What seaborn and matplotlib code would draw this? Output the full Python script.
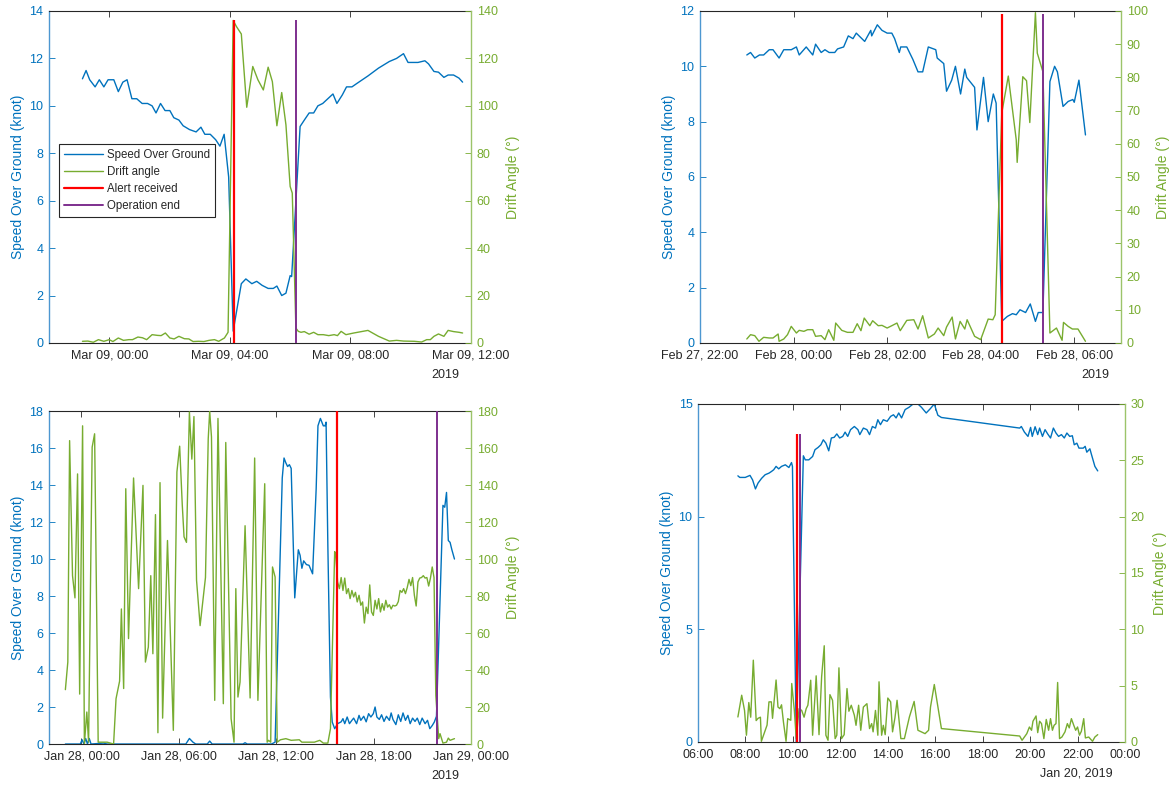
import numpy as np
import pandas as pd
import matplotlib
matplotlib.use('Agg')
import matplotlib.pyplot as plt
import matplotlib.dates as mdates
from matplotlib.lines import Line2D
import seaborn as sns

BLUE = '#0072BD'
GREEN = '#77AC30'
RED = '#FF0000'
PURPLE = '#7E2F8E'
GREY = '#262626'

# ---- panel 1 : Mar 09 2019 (hours from midnight)
p1_sog_h = [-0.89, -0.77, -0.65, -0.47, -0.33, -0.18, -0.04, 0.15, 0.30, 0.45, 0.59, 0.75, 0.91,
            1.09, 1.27, 1.42, 1.55, 1.70, 1.85, 2.01, 2.14, 2.31, 2.45, 2.66, 2.88, 3.04, 3.17,
            3.35, 3.53, 3.67, 3.81, 3.96, 4.11, 4.38, 4.53, 4.73, 4.89, 5.07, 5.27, 5.44, 5.56,
            5.72, 5.86, 6.00, 6.05, 6.33, 6.47, 6.63, 6.78, 6.92, 7.08, 7.25, 7.42, 7.55, 7.73,
            7.87, 8.05, 8.22, 8.58, 8.93, 9.29, 9.53, 9.76, 9.91, 10.24, 10.47, 10.59, 10.77,
            10.92, 11.10, 11.24, 11.42, 11.60, 11.72]
p1_sog = [11.14, 11.49, 11.10, 10.80, 11.10, 10.80, 11.10, 11.10, 10.60, 11.00, 11.10, 10.30, 10.30,
          10.10, 10.10, 10.00, 9.70, 10.10, 9.80, 9.80, 9.50, 9.40, 9.16, 9.00, 8.90, 9.10, 8.80,
          8.80, 8.57, 8.30, 8.80, 7.00, 0.50, 2.50, 2.70, 2.50, 2.60, 2.43, 2.30, 2.30, 2.40,
          2.00, 2.10, 2.84, 2.80, 9.13, 9.40, 9.70, 9.70, 10.00, 10.10, 10.30, 10.50, 10.10, 10.46,
          10.80, 10.80, 10.95, 11.26, 11.59, 11.87, 12.00, 12.20, 11.83, 11.83, 11.90, 11.77, 11.45,
          11.42, 11.20, 11.30, 11.30, 11.17, 11.00]
p1_drift_h = [-0.89, -0.71, -0.53, -0.36, -0.18, 0.00, 0.12, 0.30, 0.47, 0.65, 0.77, 0.95, 1.10,
              1.24, 1.42, 1.60, 1.72, 1.86, 2.01, 2.15, 2.31, 2.49, 2.64, 2.78, 2.96, 3.14, 3.31,
              3.49, 3.63, 3.82, 3.94, 4.11, 4.22, 4.38, 4.56, 4.76, 4.93, 5.11, 5.27, 5.41, 5.56,
              5.72, 5.86, 6.00, 6.07, 6.19, 6.27, 6.36, 6.47, 6.63, 6.78, 6.92, 7.10, 7.28, 7.46,
              7.57, 7.69, 7.85, 8.11, 8.58, 8.93, 9.29, 9.53, 9.76, 10.12, 10.36, 10.53, 10.65,
              10.77, 10.92, 11.10, 11.24, 11.42, 11.60, 11.72]
p1_drift = [0.7, 0.8, 0.3, 1.4, 0.7, 1.4, 0.6, 2.1, 1.1, 1.4, 1.4, 2.5, 2.2,
            1.4, 3.5, 3.2, 3.1, 4.2, 2.1, 1.7, 2.8, 1.8, 1.7, 0.6, 0.7, 0.6, 1.1,
            1.4, 0.7, 2.1, 4.5, 136.0, 133.4, 130.3, 99.4, 116.6, 111.0, 106.7, 116.3, 110.2, 91.6,
            105.6, 92.0, 66.0, 63.2, 6.3, 4.9, 4.5, 4.8, 3.7, 4.5, 3.5, 3.5, 3.1, 3.5,
            3.1, 4.9, 3.5, 4.2, 5.3, 2.8, 0.8, 1.1, 0.8, 0.7, 0.4, 1.4, 1.4,
            2.8, 3.8, 2.8, 5.3, 4.8, 4.5, 4.2]
p1_alert, p1_end, p1_top = 4.15, 6.19, 13.6

# ---- panel 2 : Feb 28 2019
p2_sog_h = [-1.00, -0.92, -0.83, -0.73, -0.64, -0.52, -0.44, -0.31, -0.21, -0.05, 0.06, 0.12, 0.27,
            0.41, 0.47, 0.59, 0.67, 0.76, 0.88, 0.94, 1.07, 1.17, 1.27, 1.34, 1.52, 1.65, 1.67,
            1.79, 1.89, 2.00, 2.10, 2.16, 2.26, 2.29, 2.42, 2.55, 2.66, 2.76, 2.88, 3.04, 3.07,
            3.21, 3.27, 3.38, 3.46, 3.57, 3.66, 3.70, 3.87, 3.92, 4.06, 4.16, 4.27, 4.33, 4.45,
            4.57, 4.68, 4.76, 4.84, 4.96, 5.06, 5.17, 5.23, 5.33, 5.48, 5.58, 5.64, 5.76, 5.87,
            5.97, 6.00, 6.10, 6.24]
p2_sog = [10.41, 10.50, 10.30, 10.41, 10.41, 10.60, 10.60, 10.30, 10.60, 10.60, 10.70, 10.41, 10.70,
          10.41, 10.80, 10.50, 10.60, 10.50, 10.50, 10.63, 10.70, 11.10, 11.00, 11.20, 10.90, 11.30, 11.10,
          11.50, 11.30, 11.20, 11.20, 11.00, 10.50, 10.70, 10.70, 10.25, 9.80, 9.80, 10.70, 10.60, 10.30,
          10.10, 9.10, 9.50, 10.00, 9.00, 9.90, 9.60, 9.24, 7.70, 9.60, 8.00, 9.00, 8.67, 0.78,
          0.96, 1.06, 1.02, 1.20, 1.10, 1.41, 0.78, 1.10, 1.10, 9.45, 10.00, 9.80, 8.55, 8.73,
          8.80, 8.70, 9.50, 7.52]
p2_drift_h = [-1.00, -0.92, -0.83, -0.74, -0.64, -0.52, -0.44, -0.33, -0.31, -0.21, -0.13, -0.05, 0.06,
              0.12, 0.22, 0.30, 0.41, 0.47, 0.59, 0.67, 0.75, 0.86, 0.90, 1.03, 1.15, 1.27, 1.36,
              1.44, 1.51, 1.63, 1.69, 1.81, 1.89, 2.00, 2.10, 2.21, 2.28, 2.42, 2.57, 2.66, 2.76,
              2.88, 3.01, 3.09, 3.21, 3.27, 3.39, 3.46, 3.56, 3.66, 3.71, 3.87, 4.00, 4.16, 4.26,
              4.31, 4.45, 4.59, 4.76, 4.78, 4.90, 4.98, 5.05, 5.17, 5.21, 5.33, 5.48, 5.62, 5.74,
              5.77, 5.87, 5.96, 6.08, 6.24]
p2_drift = [1.2, 2.5, 2.2, 0.5, 1.7, 1.5, 1.5, 2.7, 0.5, 1.2, 2.5, 5.0, 3.0,
            3.8, 3.5, 4.0, 4.0, 2.0, 2.2, 1.0, 4.0, 0.8, 6.0, 3.8, 3.2, 3.2, 5.8,
            3.7, 7.5, 5.2, 6.7, 5.2, 5.3, 4.5, 5.2, 6.0, 3.7, 6.8, 7.0, 4.2, 8.2,
            1.5, 2.7, 4.5, 2.2, 4.8, 7.8, 1.2, 6.5, 4.2, 7.0, 2.0, 1.0, 7.2, 7.0,
            8.5, 69.2, 80.4, 61.2, 54.4, 80.2, 79.0, 66.4, 99.5, 87.3, 81.7, 3.0, 4.5, 0.8,
            6.2, 5.0, 4.2, 4.2, 0.5]
p2_alert, p2_end, p2_top = 4.45, 5.34, 11.9

# ---- panel 3 : Jan 28 2019
p3_sog_h = [-0.99, -0.07, 0.04, 0.15, 0.26, 0.37, 0.48, 0.59, 1.36, 1.58, 6.43, 6.65, 6.87, 7.04,
            7.75, 7.90, 8.05, 9.95, 10.08, 10.21, 11.71, 11.93, 12.37, 12.48, 12.59, 12.70, 12.81,
            12.92, 13.14, 13.36, 13.47, 13.58, 13.69, 13.86, 14.02, 14.24, 14.46, 14.57, 14.72,
            14.90, 15.01, 15.07, 15.18, 15.34, 15.45, 15.60, 15.78, 16.00, 16.11, 16.22, 16.37,
            16.51, 16.66, 16.77, 16.95, 17.10, 17.21, 17.39, 17.54, 17.69, 17.83, 17.98, 18.09,
            18.20, 18.35, 18.49, 18.64, 18.79, 18.97, 19.08, 19.19, 19.37, 19.52, 19.67, 19.81,
            19.96, 20.11, 20.25, 20.40, 20.55, 20.69, 20.84, 20.99, 21.17, 21.32, 21.46, 21.61,
            21.74, 21.87, 22.27, 22.38, 22.49, 22.60, 22.71, 22.82, 22.98]
p3_sog = [0.0, 0.0, 0.23, 0.0, 0.3, 0.0, 0.3, 0.0, 0.05, 0.0, 0.0, 0.3, 0.1, 0.0,
          0.0, 0.16, 0.0, 0.0, 0.07, 0.0, 0.0, 0.1, 14.38, 15.46, 15.2, 15.0, 15.1,
          14.9, 7.9, 10.5, 10.2, 9.5, 9.9, 9.7, 9.66, 9.2, 13.8, 17.2, 17.6,
          17.2, 17.2, 17.4, 10.7, 2.54, 1.19, 0.83, 1.1, 1.2, 1.37, 1.1, 1.46,
          1.1, 1.28, 1.4, 1.1, 1.55, 1.28, 1.5, 1.2, 1.64, 1.46, 1.64, 2.0,
          1.46, 1.33, 1.58, 1.22, 1.5, 1.28, 1.68, 1.33, 1.05, 1.58, 1.22, 1.68,
          1.28, 1.55, 1.1, 1.4, 1.22, 1.4, 1.05, 1.4, 1.1, 1.28, 0.83, 1.0,
          1.19, 1.5, 12.9, 12.8, 13.6, 11.0, 10.9, 10.5, 10.0]
p3_drift_h = [-0.99, -0.84, -0.73, -0.55, -0.40, -0.24, -0.11, 0.07, 0.18, 0.33, 0.44, 0.66, 0.81,
              1.03, 1.25, 1.58, 1.98, 2.13, 2.35, 2.46, 2.60, 2.73, 2.90, 3.21, 3.52, 3.79, 3.94,
              4.12, 4.27, 4.40, 4.56, 4.71, 4.84, 5.00, 5.30, 5.66, 5.88, 6.05, 6.21, 6.32, 6.47,
              6.65, 6.80, 6.93, 7.09, 7.31, 7.64, 7.81, 7.90, 8.01, 8.21, 8.41, 8.74, 8.89, 9.22,
              9.40, 9.51, 9.64, 9.77, 10.08, 10.39, 10.67, 10.87, 11.29, 11.44, 11.53, 11.66, 11.77,
              11.93, 12.06, 12.26, 12.59, 12.92, 13.42, 13.58, 14.35, 14.68, 14.90, 15.18, 15.34,
              15.60, 15.67, 15.78, 15.89, 16.00, 16.11, 16.22, 16.33, 16.44, 16.55, 16.66, 16.77,
              16.88, 16.99, 17.10, 17.21, 17.32, 17.43, 17.54, 17.65, 17.76, 17.87, 17.98, 18.09,
              18.20, 18.31, 18.42, 18.53, 18.64, 18.75, 18.86, 18.97, 19.08, 19.19, 19.30, 19.41,
              19.52, 19.63, 19.74, 19.85, 19.96, 20.07, 20.18, 20.29, 20.40, 20.51, 20.62, 20.73,
              20.84, 20.95, 21.06, 21.17, 21.28, 21.39, 21.50, 21.61, 21.72, 21.83, 22.01, 22.09,
              22.27, 22.49, 22.60, 22.71, 22.98]
p3_drift = [29.4, 44.3, 164, 91, 79, 146, 27, 172, 0, 17.3, 1, 160.5, 167.7,
            1, 1, 1, 0, 24.5, 34, 73, 30, 138, 57, 143.8, 84, 139.8, 44.3,
            52.4, 91, 48.8, 124, 6.1, 141.3, 14, 110, 7.4, 147, 161, 129.4, 112, 109,
            179.5, 154, 177, 88.5, 64, 90, 165, 180, 166, 23.6, 176, 21.8, 163, 13.7,
            1, 84, 25.4, 33.5, 118, 24.9, 154.6, 23.6, 140.7, 1, 2, 1, 95.7,
            90.3, 1, 2.3, 2.9, 2, 2.3, 1, 1, 2, 0.5, 0.5, 8.3,
            104, 102, 87.6, 84, 90, 83, 89.7, 81.3, 84, 78.6, 83, 79.5,
            82, 76.8, 80.4, 75, 76.8, 65.4, 74, 70.5, 86, 71.4, 69.5, 77.7,
            73, 78.6, 71.4, 75.9, 72.3, 77.7, 74, 75.3, 73, 75, 74.6, 75,
            77, 83, 82, 84, 81.3, 84.6, 89, 85.6, 90, 80.4, 74.6, 87.6,
            89.7, 90, 91, 89.7, 90, 85.4, 89.7, 95.7, 90, 26.3, 2.9, 5.6,
            0.5, 1, 3.2, 2, 2.9]
p3_alert, p3_end, p3_top = 15.72, 21.88, 18.0

# ---- panel 4 : Jan 20 2019 (clock hours)
p4_sog_h = [7.68, 7.76, 7.99, 8.19, 8.30, 8.42, 8.53, 8.68, 8.83, 8.99, 9.09, 9.19, 9.29, 9.40,
            9.52, 9.68, 9.83, 9.94, 9.98, 10.14, 10.44, 10.52, 10.67, 10.83, 10.93, 11.06, 11.18,
            11.28, 11.39, 11.51, 11.62, 11.74, 11.85, 11.97, 12.10, 12.20, 12.31, 12.43, 12.59,
            12.74, 12.82, 12.97, 13.12, 13.23, 13.35, 13.48, 13.58, 13.69, 13.81, 13.97, 14.12,
            14.24, 14.35, 14.46, 14.58, 14.73, 14.89, 15.07, 15.27, 15.42, 15.62, 15.80, 15.96,
            16.11, 16.26, 19.56, 19.63, 19.76, 19.91, 20.02, 20.09, 20.21, 20.32, 20.40, 20.52,
            20.63, 20.74, 20.86, 20.98, 21.09, 21.20, 21.32, 21.44, 21.55, 21.67, 21.78, 21.86,
            21.97, 22.06, 22.24, 22.32, 22.39, 22.52, 22.58, 22.67, 22.73, 22.85]
p4_sog = [11.81, 11.74, 11.74, 11.83, 11.63, 11.23, 11.49, 11.70, 11.86, 11.93, 12.00, 12.08, 12.23, 12.12,
          12.23, 12.30, 12.18, 12.40, 12.23, 0.0, 12.70, 12.52, 12.52, 12.67, 12.97, 13.07, 13.19,
          13.41, 13.26, 12.92, 13.49, 13.52, 13.67, 13.49, 13.56, 13.75, 13.56, 13.86, 14.00,
          13.86, 13.64, 13.93, 13.86, 13.64, 14.00, 13.93, 14.30, 14.08, 14.30, 14.23, 14.45,
          14.52, 14.38, 14.60, 14.38, 14.75, 14.85, 15.00, 15.00, 14.85, 14.60, 14.80, 15.00,
          14.50, 14.40, 13.93, 14.00, 13.75, 13.56, 13.96, 13.56, 13.99, 13.64, 13.93, 13.56,
          13.86, 13.67, 13.49, 13.93, 13.71, 13.56, 13.64, 13.49, 13.71, 13.56, 13.59, 13.19,
          13.26, 13.04, 13.04, 13.12, 12.86, 13.01, 12.78, 12.45, 12.23, 12.03]
p4_drift_h = [7.68, 7.84, 7.96, 8.04, 8.14, 8.22, 8.33, 8.45, 8.53, 8.63, 8.67, 8.91, 8.99, 9.09,
              9.14, 9.29, 9.37, 9.45, 9.52, 9.60, 9.71, 9.78, 9.91, 9.95, 10.06, 10.14, 10.26, 10.37,
              10.47, 10.56, 10.63, 10.75, 10.83, 10.98, 11.10, 11.21, 11.32, 11.39, 11.48, 11.56,
              11.67, 11.78, 11.85, 11.94, 12.05, 12.16, 12.28, 12.36, 12.46, 12.59, 12.66, 12.77,
              12.86, 12.97, 13.12, 13.23, 13.32, 13.38, 13.48, 13.58, 13.63, 13.74, 13.81, 13.89,
              14.00, 14.12, 14.20, 14.30, 14.39, 14.55, 14.70, 14.91, 15.11, 15.27, 15.57, 15.72,
              15.80, 15.96, 16.26, 19.56, 19.66, 19.86, 19.97, 20.06, 20.12, 20.25, 20.32, 20.40,
              20.48, 20.58, 20.68, 20.78, 20.86, 20.94, 21.01, 21.09, 21.16, 21.24, 21.34, 21.47,
              21.57, 21.65, 21.74, 21.84, 21.92, 22.00, 22.08, 22.16, 22.26, 22.33, 22.47, 22.63,
              22.73, 22.85]
p4_drift = [2.22, 4.15, 2.80, 0.60, 3.50, 2.20, 7.26, 1.90, 2.10, 2.20, 0.06, 1.50, 3.56, 3.56,
            2.10, 5.50, 3.10, 2.96, 3.30, 1.78, 0.06, 2.07, 1.93, 5.19, 2.80, 0.30, 2.96, 2.80,
            2.20, 2.96, 3.26, 5.48, 0.60, 5.87, 0.65, 5.78, 8.54, 0.60, 0.15, 4.20,
            3.70, 0.30, 0.60, 6.58, 0.30, 0.65, 4.74, 2.73, 3.26, 2.37, 1.48, 3.26,
            1.04, 3.10, 3.40, 1.19, 1.63, 0.90, 2.80, 0.60, 5.34, 0.60, 1.48, 0.65,
            3.90, 3.56, 0.90, 2.13, 3.70, 0.30, 0.30, 2.22, 3.60, 1.04, 0.74, 1.04,
            3.10, 5.10, 1.19, 0.53, 0.15, 0.74, 1.33, 1.04, 1.84, 2.31, 0.83, 1.84,
            1.63, 0.30, 2.00, 1.04, 2.07, 1.04, 1.48, 1.63, 5.28, 0.30, 0.44, 0.90,
            1.63, 1.25, 2.07, 1.48, 1.04, 1.33, 0.60, 0.95, 2.07, 0.36, 0.44, 0.06,
            0.44, 0.65]
p4_alert, p4_end, p4_top = 10.17, 10.29, 13.66

sns.set_theme(style='white')
plt.rcParams['font.family'] = ['Liberation Sans', 'DejaVu Sans']


def to_time(base, hours):
    return pd.Timestamp(base) + pd.to_timedelta(np.asarray(hours, dtype=float), unit='h')


def draw_panel(rect, base, sog_h, sog, drift_h, drift, alert_h, end_h, top,
               xlim_h, xticks_h, fmt, ylim_l, yticks_l, ylim_r, yticks_r, corner):
    ax = fig.add_axes(rect)
    ax2 = ax.twinx()

    sns.lineplot(x=to_time(base, sog_h), y=sog, ax=ax, color=BLUE, lw=1.0,
                 estimator=None, sort=False)
    sns.lineplot(x=to_time(base, drift_h), y=drift, ax=ax2, color=GREEN, lw=1.0,
                 estimator=None, sort=False)
    # event markers, drawn up to `top` (left-axis units)
    ax2.vlines(to_time(base, [alert_h]), 0, top * ylim_r[1] / ylim_l[1], color=RED, lw=1.6)
    ax2.vlines(to_time(base, [end_h]), 0, top * ylim_r[1] / ylim_l[1], color=PURPLE, lw=1.4)

    ax.set_xlim(to_time(base, xlim_h))
    ax.set_xticks(to_time(base, xticks_h))
    ax.xaxis.set_major_formatter(mdates.DateFormatter(fmt))
    ax.set_ylim(ylim_l)
    ax.set_yticks(yticks_l)
    ax2.set_ylim(ylim_r)
    ax2.set_yticks(yticks_r)

    ax.set_xlabel('')
    ax.set_ylabel('Speed Over Ground (knot)', color=BLUE, fontsize=10, labelpad=3)
    ax2.set_ylabel('Drift Angle (°)', color=GREEN, fontsize=10, labelpad=6)

    ax.tick_params(axis='x', direction='in', length=4, top=True, bottom=True,
                   colors=GREY, labelsize=9, pad=5, width=0.6)
    ax.tick_params(axis='y', direction='in', length=4, left=True, right=False,
                   colors=BLUE, labelsize=9, pad=4, width=0.6)
    ax2.tick_params(axis='y', direction='in', length=4, right=True, left=False,
                    colors=GREEN, labelsize=9, pad=4, width=0.6)

    for s in ['top', 'bottom']:
        ax.spines[s].set_color(GREY)
        ax.spines[s].set_linewidth(0.8)
    ax.spines['left'].set_color('#4d97d1')
    ax.spines['left'].set_linewidth(1.0)
    ax.spines['right'].set_visible(False)
    for s in ['top', 'bottom', 'left']:
        ax2.spines[s].set_visible(False)
    ax2.spines['right'].set_color('#9cc46a')
    ax2.spines['right'].set_linewidth(1.0)

    ax.annotate(corner, xy=(1, 0), xycoords='axes fraction', xytext=(-12, -32),
                textcoords='offset pixels', ha='right', va='center', fontsize=9, color=GREY)
    return ax, ax2


fig = plt.figure(figsize=(11.72, 7.85), dpi=100)

a1, a1r = draw_panel([0.0418, 0.5631, 0.3601, 0.4229], '2019-03-09',
                     p1_sog_h, p1_sog, p1_drift_h, p1_drift, p1_alert, p1_end, p1_top,
                     [-2, 12], [0, 4, 8, 12], '%b %d, %H:%M',
                     (0, 14), np.arange(0, 15, 2), (0, 140), np.arange(0, 141, 20), '2019')

draw_panel([0.5973, 0.5631, 0.3592, 0.4229], '2019-02-28',
           p2_sog_h, p2_sog, p2_drift_h, p2_drift, p2_alert, p2_end, p2_top,
           [-2, 7], [-2, 0, 2, 4, 6], '%b %d, %H:%M',
           (0, 12), np.arange(0, 13, 2), (0, 100), np.arange(0, 101, 10), '2019')

draw_panel([0.0418, 0.0522, 0.3601, 0.4242], '2019-01-28',
           p3_sog_h, p3_sog, p3_drift_h, p3_drift, p3_alert, p3_end, p3_top,
           [-2, 24], [0, 6, 12, 18, 24], '%b %d, %H:%M',
           (0, 18), np.arange(0, 19, 2), (0, 180), np.arange(0, 181, 20), '2019')

draw_panel([0.5956, 0.0548, 0.3643, 0.4306], '2019-01-20',
           p4_sog_h, p4_sog, p4_drift_h, p4_drift, p4_alert, p4_end, p4_top,
           [6, 24], list(range(6, 25, 2)), '%H:%M',
           (0, 15), [0, 5, 10, 15], (0, 30), np.arange(0, 31, 5), 'Jan 20, 2019')

# legend on the first panel
handles = [Line2D([], [], color=BLUE, lw=1.0), Line2D([], [], color=GREEN, lw=1.0),
           Line2D([], [], color=RED, lw=1.6), Line2D([], [], color=PURPLE, lw=1.4)]
labels = ['Speed Over Ground', 'Drift angle', 'Alert received', 'Operation end']
leg = a1r.legend(handles, labels, loc='upper left', bbox_to_anchor=(0.0237, 0.599),
                 fontsize=8.3, frameon=True, fancybox=False, framealpha=1,
                 edgecolor=GREY, handlelength=3.4, handletextpad=0.4,
                 labelspacing=0.45, borderpad=0.4, borderaxespad=0)
leg.get_frame().set_linewidth(0.8)

fig.savefig('out.png', dpi=100)
